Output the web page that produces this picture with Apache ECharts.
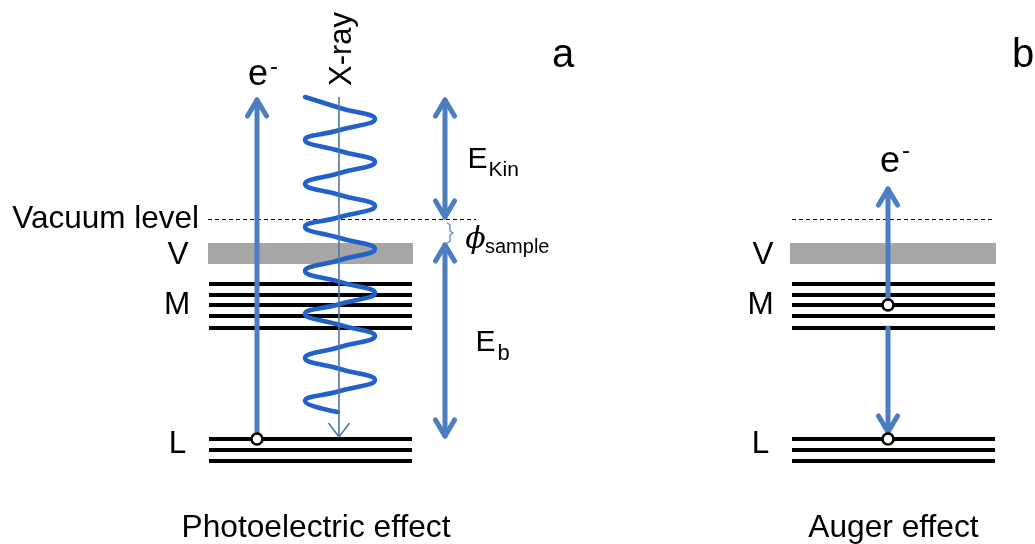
<!DOCTYPE html>
<html><head><meta charset="utf-8">
<script src="https://cdn.jsdelivr.net/npm/echarts@6/dist/echarts.min.js"></script>
<style>html,body{margin:0;padding:0;background:#fff}#c{width:1035px;height:544px}</style>
</head><body><div id="c"></div>
<script>
// ---------------- diagram data (units of the hidden axes) ----------------
const vacuumLevel = 219;
const valenceBand = 253.5;
const levelsM = [284, 294.5, 305, 316, 327.5];
const levelsL = [439, 450, 461];
const levelsAX = [209, 412];
const levelsBX = [792, 995];
const vacuumAX = [208, 476];
const vacuumBX = [792, 994];
const valenceAX = [208, 413];
const valenceBX = [790, 996];
// thick arrows: [x, yStart, yEnd, heads]
const arrowsThick = [
  [257, 439, 100, 'end'],
  [445, 100, 217, 'both'],
  [445, 245, 436, 'both'],
  [888, 305, 189, 'end'],
  [888, 328, 432, 'end']
];
const xrayBeam = [339, 97, 437];
// x-ray wave: extremes and centre crossings
const xrayWave = [
  [305,97],[340,108],[375,119],[340,130],[305,140],[340,151],[375,162],[340,173],
  [305,184],[340,195],[375,206],[340,217],[305,227],[340,238],[375,249],[340,260],
  [305,271],[340,282],[375,293],[340,304],[305,314],[340,325],[375,336],[340,347],
  [305,358],[340,369],[375,380],[340,391],[305,401],[338,412]
];
const phiBrace = [[447,223],[450,224.5],[450,231],[453,233],[450,235],[450,241.5],[447,243]];
const holes = [[257,439],[888,305],[888,439]];

// ---------------- build ----------------
const ARROW = '#4a7ebf', WAVE = '#2161c9', BEAM = '#5173a8';
const FONT = '"Liberation Sans", Arial, sans-serif';

function hLine(xr, y){ return {coords: [[xr[0], y], [xr[1], y]]}; }
const levelLines = [];
[levelsAX, levelsBX].forEach(xr => {
  levelsM.forEach(y => levelLines.push(hLine(xr, y)));
  levelsL.forEach(y => levelLines.push(hLine(xr, y)));
});

function chevron(x, tip, dir, w, h){ // dir +1 = pointing down
  return {coords: [[x - w, tip - dir*h], [x, tip], [x + w, tip - dir*h]]};
}
const shafts = [], heads = [];
arrowsThick.forEach(([x, y0, y1, mode]) => {
  shafts.push({coords: [[x, y0], [x, y1]]});
  const d = Math.sign(y1 - y0);
  heads.push(chevron(x, y1, d, 9.5, 16));
  if (mode === 'both') heads.push(chevron(x, y0, -d, 9.5, 16));
});

const chart = echarts.init(document.getElementById('c'), null, {renderer: 'canvas'});

function txt(t, x, baseline, fs, align, extra){
  return Object.assign({
    type: 'text', x: x, y: baseline - 0.35*fs, z: 100,
    style: {text: t, font: fs + 'px ' + FONT, fill: '#000', align: align || 'center', verticalAlign: 'middle'}
  }, extra || {});
}

chart.setOption({
  animation: false,
  backgroundColor: '#fff',
  grid: {left: 0, right: 0, top: 0, bottom: 0, containLabel: false},
  xAxis: {type: 'value', min: 0, max: 1035, show: false},
  yAxis: {type: 'value', min: 0, max: 544, inverse: true, show: false},
  series: [
    {type: 'lines', coordinateSystem: 'cartesian2d', z: 1,
     lineStyle: {color: '#a6a6a6', width: 21, cap: 'butt', opacity: 1},
     data: [hLine(valenceAX, valenceBand), hLine(valenceBX, valenceBand)]},
    {type: 'lines', coordinateSystem: 'cartesian2d', z: 2,
     lineStyle: {color: '#000', width: 4, cap: 'butt', opacity: 1}, data: levelLines},
    {type: 'lines', coordinateSystem: 'cartesian2d', z: 2,
     lineStyle: {color: '#000', width: 1.2, type: [4, 3], opacity: 1},
     data: [hLine(vacuumAX, vacuumLevel), hLine(vacuumBX, vacuumLevel)]},
    {type: 'line', data: xrayWave, smooth: 0.5, symbol: 'none', z: 3,
     lineStyle: {color: WAVE, width: 4.5, cap: 'round'}},
    {type: 'lines', coordinateSystem: 'cartesian2d', polyline: true, z: 4,
     lineStyle: {color: BEAM, width: 1.6, opacity: 1, join: 'miter'},
     data: [{coords: [[xrayBeam[0], xrayBeam[1]], [xrayBeam[0], xrayBeam[2]]]},
            chevron(xrayBeam[0], xrayBeam[2], 1, 10.5, 14)]},
    {type: 'lines', coordinateSystem: 'cartesian2d', polyline: true, z: 5,
     lineStyle: {color: ARROW, width: 5, cap: 'round', join: 'round', opacity: 1},
     data: shafts.concat(heads)},
    {type: 'lines', coordinateSystem: 'cartesian2d', polyline: true, z: 5,
     lineStyle: {color: ARROW, width: 1.2, opacity: 1}, data: [{coords: phiBrace}]},
    {type: 'scatter', data: holes, symbol: 'circle', symbolSize: 11, z: 6,
     itemStyle: {color: '#fff', borderColor: '#000', borderWidth: 2.5, opacity: 1}}
  ],
  graphic: [
    txt('Vacuum level', 199, 230, 31.5, 'right'),
    txt('V', 178, 266, 31.5), txt('M', 177, 316, 31.5), txt('L', 177.5, 455, 31.5),
    txt('V', 763, 266, 31.5), txt('M', 760.5, 316, 31.5), txt('L', 760.5, 455, 31.5),
    txt('a', 563, 70, 40), txt('b', 1023, 70, 40),
    txt('e', 258, 88, 36), txt('-', 274, 76, 24),
    txt('e', 890, 175, 36), txt('-', 906, 160, 24),
    {type: 'text', x: 342.5, y: 49, rotation: Math.PI/2, z: 100,
     style: {text: 'X-ray', font: '31px ' + FONT, fill: '#000', align: 'center', verticalAlign: 'middle'}},
    txt('E', 467.6, 170, 30, 'left'), txt('Kin', 488.5, 178, 21, 'left'),
    txt('E', 475.6, 353, 30, 'left'), txt('b', 497.5, 362, 22, 'left'),
    {type: 'text', x: 475.5, y: 240, z: 100,
     style: {text: '\u03D5', font: 'italic 30px "DejaVu Serif", "Liberation Serif", serif', fill: '#000', align: 'center', verticalAlign: 'middle'}},
    txt('sample', 485, 254, 20, 'left'),
    txt('Photoelectric effect', 316, 539, 31.7),
    txt('Auger effect', 893.5, 539, 31.7)
  ]
});
</script></body></html>
